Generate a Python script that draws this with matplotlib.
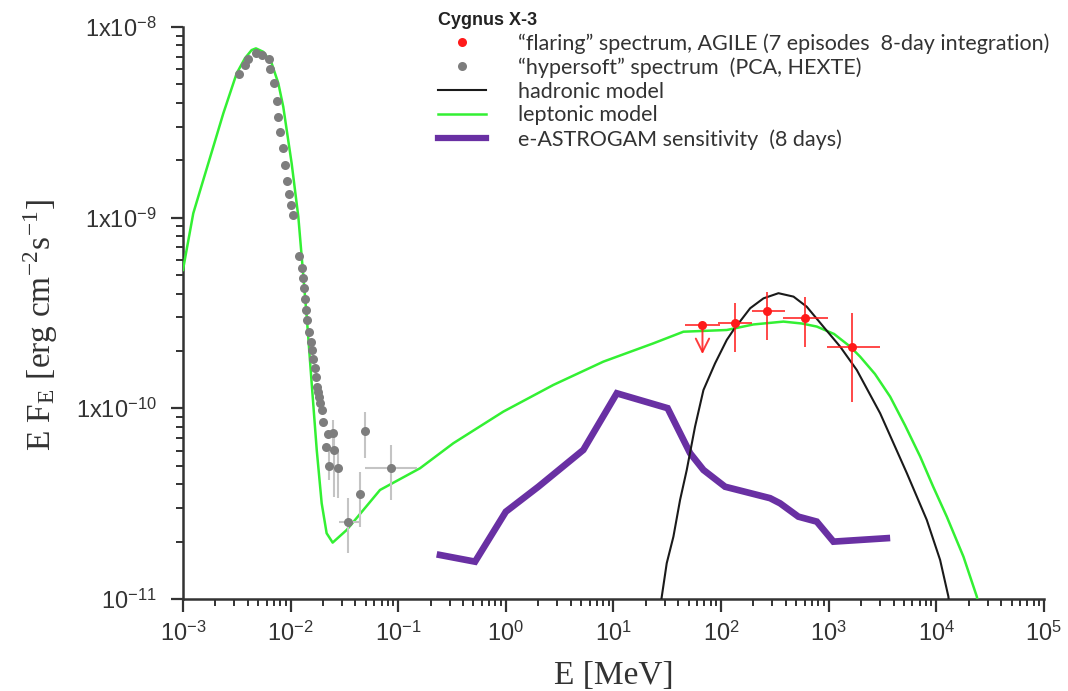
import numpy as np
import matplotlib
matplotlib.use("Agg")
from matplotlib import pyplot as plt
from matplotlib.lines import Line2D
from matplotlib.ticker import FixedLocator, LogLocator, NullFormatter

plt.rcParams['mathtext.fontset'] = 'stix'

# values, as log10(E/MeV) and log10(E F_E / erg cm-2 s-1)
lep_logE = [-3.0, -2.904, -2.811, -2.718, -2.625, -2.563, -2.501, -2.424, -2.362, -2.322, -2.254,
            -2.176, -2.114, -2.068, -2.036, -1.990, -1.928, -1.850, -1.804, -1.757, -1.711,
            -1.665, -1.609, -1.479, -1.169, -0.797, -0.488, -0.023, 0.442, 0.906, 1.371,
            1.650, 2.053, 2.30, 2.579, 2.75, 2.889, 3.05, 3.199, 3.292, 3.43, 3.571, 3.71,
            3.850, 3.97, 4.097, 4.252, 4.376, 4.42]
lep_logF = [-9.274, -8.977, -8.802, -8.628, -8.453, -8.348, -8.243, -8.164, -8.121, -8.112, -8.130,
            -8.190, -8.295, -8.418, -8.540, -8.715, -8.995, -9.519, -9.868, -10.218, -10.498,
            -10.655, -10.704, -10.638, -10.428, -10.314, -10.183, -10.017, -9.877, -9.755, -9.659,
            -9.598, -9.589, -9.56, -9.545, -9.555, -9.571, -9.61, -9.676, -9.729, -9.82, -9.939, -10.09,
            -10.253, -10.41, -10.568, -10.778, -10.987, -11.1]

had_logE = [1.42, 1.449, 1.495, 1.557, 1.619, 1.681, 1.758, 1.836, 1.944, 2.053, 2.115, 2.270,
            2.394, 2.533, 2.673, 2.796, 2.951, 3.106, 3.261, 3.478, 3.726, 3.911, 4.035,
            4.112, 4.13]
had_logF = [-11.1, -10.987, -10.812, -10.673, -10.480, -10.323, -10.096, -9.904, -9.764, -9.641,
            -9.589, -9.475, -9.423, -9.396, -9.414, -9.467, -9.572, -9.676, -9.799, -10.026,
            -10.340, -10.585, -10.795, -10.987, -11.1]

sens_logE = [-0.612, -0.286, 0.0, 0.302, 0.720, 1.031, 1.503, 1.712, 1.836, 2.037, 2.455,
             2.548, 2.718, 2.889, 3.044, 3.540]
sens_logF = [-10.769, -10.804, -10.542, -10.411, -10.218, -9.921, -9.999, -10.235, -10.323, -10.411,
             -10.471, -10.498, -10.568, -10.594, -10.699, -10.681]

# hypersoft spectrum (PCA, HEXTE)
soft_logE = [-2.476, -2.424, -2.393, -2.317, -2.270, -2.198, -2.193, -2.152, -2.130, -2.114,
             -2.099, -2.068, -2.049, -2.030, -2.011, -1.996, -1.975, -1.922, -1.897, -1.888,
             -1.876, -1.866, -1.857, -1.845, -1.829, -1.813, -1.801, -1.795, -1.773, -1.764,
             -1.757, -1.742, -1.733, -1.727, -1.711, -1.696, -1.650]
soft_logF = [-8.246, -8.199, -8.169, -8.138, -8.147, -8.169, -8.222, -8.292, -8.388, -8.474,
             -8.551, -8.633, -8.722, -8.806, -8.876, -8.933, -8.986, -9.201, -9.265, -9.318,
             -9.370, -9.428, -9.484, -9.536, -9.598, -9.650, -9.694, -9.742, -9.790, -9.834,
             -9.886, -9.912, -9.939, -9.973, -10.008, -10.070, -10.136]

# hypersoft points with error bars
hx_logE = [-1.603, -1.668, -1.595, -1.644, -1.563, -1.309, -1.070, -1.355, -1.464]
hx_logF = [-10.131, -10.201, -10.218, -10.302, -10.314, -10.118, -10.311, -10.450, -10.594]
hx_lo = [-10.218, -10.201, -10.463, -10.375, -10.470, -10.262, -10.480, -10.620, -10.760]
hx_hi = [-10.061, -10.201, -10.148, -10.218, -10.218, -10.017, -10.192, -10.332, -10.471]
hx_Elo = [-1.603, -1.668, -1.595, -1.644, -1.563, -1.309, -1.309, -1.355, -1.547]
hx_Ehi = [-1.603, -1.668, -1.595, -1.644, -1.563, -1.309, -0.828, -1.355, -1.355]

# AGILE flaring spectrum
ag_logE = [1.827, 2.130, 2.430, 2.779, 3.213]
ag_logF = [-9.563, -9.554, -9.488, -9.524, -9.676]
ag_lo = [-9.563, -9.703, -9.641, -9.676, -9.965]
ag_hi = [-9.563, -9.449, -9.388, -9.414, -9.501]
ag_Elo = [1.666, 1.975, 2.285, 2.579, 2.981]
ag_Ehi = [1.991, 2.285, 2.595, 2.997, 3.477]
ag_ul_logF = -9.73   # arrow tip of the upper limit (first point)

def p(a):
    return 10.0 ** np.asarray(a)

GREEN = '#33f033'
PURPLE = '#6930a3'
RED = '#ff1a1a'
GREY = '#7d7d7d'
DARK = '#333333'

fig = plt.figure(figsize=(10.68, 6.91), dpi=100)
ax = fig.add_axes([0.1713, 0.1331, 0.8062, 0.8278])

ax.plot(p(lep_logE), p(lep_logF), color=GREEN, lw=1.8, zorder=3)
ax.plot(p(had_logE), p(had_logF), color='#1a1a1a', lw=1.5, zorder=3)
ax.plot(p(sens_logE), p(sens_logF), color=PURPLE, lw=4.8, solid_joinstyle='miter', zorder=2)

# grey points with error bars
E = p(hx_logE); F = p(hx_logF)
ax.errorbar(E, F, yerr=[F - p(hx_lo), p(hx_hi) - F], xerr=[E - p(hx_Elo), p(hx_Ehi) - E],
            fmt='none', ecolor='#c4c4c4', elinewidth=1.5, zorder=4)
ax.plot(p(soft_logE), p(soft_logF), 'o', color=GREY, ms=6.5, mec='none', zorder=5)
ax.plot(E, F, 'o', color=GREY, ms=6.5, mec='none', zorder=5)

# AGILE points
E = p(ag_logE); F = p(ag_logF)
ax.errorbar(E, F, yerr=[F - p(ag_lo), p(ag_hi) - F], xerr=[E - p(ag_Elo), p(ag_Ehi) - E],
            fmt='none', ecolor=RED, elinewidth=1.4, alpha=0.8, zorder=6)
ax.plot(E, F, 'o', color=RED, ms=6.5, mec='none', zorder=7)
ax.annotate('', xy=(E[0], p(ag_ul_logF)), xytext=(E[0], F[0]),
            arrowprops=dict(arrowstyle='->', color=RED, lw=1.4, mutation_scale=24, alpha=0.85),
            zorder=6)

ax.set_xscale('log')
ax.set_yscale('log')
ax.set_xlim(1e-3, 1e5)
ax.set_ylim(1e-11, 1e-8)

for s in ['top', 'right']:
    ax.spines[s].set_visible(False)
for s in ['left', 'bottom']:
    ax.spines[s].set_linewidth(1.8)
    ax.spines[s].set_color(DARK)

tick_font = dict(family='Liberation Sans', size=17, color=DARK)
xt = [10.0 ** k for k in range(-3, 6)]
ax.xaxis.set_major_locator(FixedLocator(xt))
ax.set_xticklabels([r'10$^{\mathregular{%d}}$' % k for k in range(-3, 6)], **tick_font)
ax.xaxis.set_minor_locator(LogLocator(base=10, subs=np.arange(2, 10), numticks=20))
ax.xaxis.set_minor_formatter(NullFormatter())

yt = [1e-11, 1e-10, 1e-9, 1e-8]
ax.yaxis.set_major_locator(FixedLocator(yt))
ax.set_yticklabels([r'10$^{\mathregular{-11}}$', r'1x10$^{\mathregular{-10}}$',
                    r'1x10$^{\mathregular{-9}}$', r'1x10$^{\mathregular{-8}}$'], **tick_font)
ax.yaxis.set_minor_locator(LogLocator(base=10, subs=np.arange(2, 10), numticks=20))
ax.yaxis.set_minor_formatter(NullFormatter())

ax.tick_params(which='major', direction='out', length=9, width=1.6, color=DARK)
ax.tick_params(axis='x', which='major', pad=7)
ax.tick_params(axis='y', which='major', pad=10)
ax.tick_params(which='minor', direction='out', length=5, width=1.4, color=DARK)

label_font = dict(family='Liberation Serif', size=24, color=DARK)
ax.set_xlabel('E [MeV]', labelpad=10, **label_font)
ax.set_ylabel(r'E F$_{\mathregular{E}}$ [erg cm$^{\mathregular{-2}}$s$^{\mathregular{-1}}$]',
              **label_font)
ax.yaxis.set_label_coords(-0.143, 0.479)

handles = [
    Line2D([], [], ls='none', marker='o', color=RED, ms=6.5, mec='none'),
    Line2D([], [], ls='none', marker='o', color=GREY, ms=6.5, mec='none'),
    Line2D([], [], color='#1a1a1a', lw=1.5),
    Line2D([], [], color=GREEN, lw=1.8),
    Line2D([], [], color=PURPLE, lw=4.5),
]
labels = ['\u201cflaring\u201d spectrum, AGILE (7 episodes  8-day integration)',
          '\u201chypersoft\u201d spectrum  (PCA, HEXTE)',
          'hadronic model', 'leptonic model', 'e-ASTROGAM sensitivity  (8 days)']
leg = fig.legend(handles, labels, loc='upper left', bbox_to_anchor=(432 / 1068, 1 - 6 / 691),
                 frameon=False, prop=dict(family='Lato', size=15.5), handlelength=2.2,
                 handletextpad=1.5, labelspacing=0.17, borderpad=0.3, borderaxespad=0,
                 title='Cygnus X-3', title_fontproperties=dict(family='Liberation Sans',
                                                              weight='bold', size=13),
                 alignment='left')
for t in leg.get_texts():
    t.set_color(DARK)
leg.get_title().set_color('#222222')

fig.savefig('out.png', dpi=100)
